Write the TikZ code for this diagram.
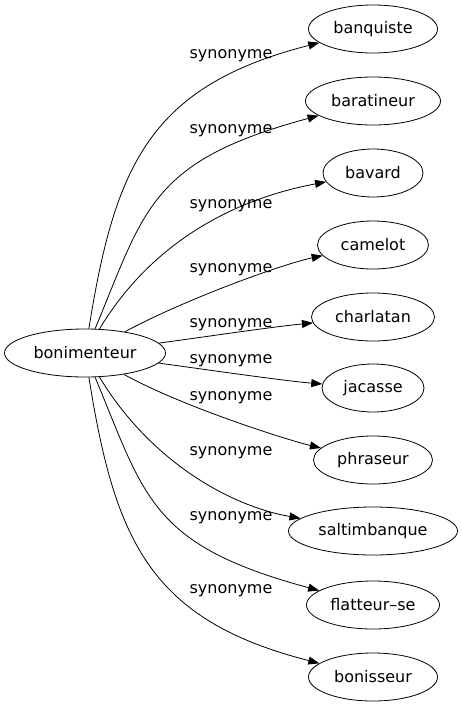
\documentclass[tikz,border=0pt]{standalone}
\usepackage{fontspec}
\setmainfont{DejaVu Sans}
\usetikzlibrary{shapes.geometric,arrows.meta}
\begin{document}
\begin{tikzpicture}[x=1pt,y=-1pt,
  word/.style={ellipse,draw,line width=0.8pt,inner sep=0pt,minimum height=48pt,font=\fontsize{16}{19}\selectfont},
  rel/.style={font=\fontsize{16}{19}\selectfont,anchor=base,inner sep=0pt},
  syn/.style={draw,line width=0.8pt,-{Triangle[length=11pt,width=8pt]}}]
\useasboundingbox (0,0) rectangle (462,707);
\node[word,minimum width=161pt] (src) at (85,353) {bonimenteur};
\node[word,minimum width=129pt] (t1) at (373,29) {banquiste};
\node[word,minimum width=135pt] (t2) at (373,101) {baratineur};
\node[word,minimum width=100pt] (t3) at (373,173) {bavard};
\node[word,minimum width=111pt] (t4) at (373,245) {camelot};
\node[word,minimum width=123pt] (t5) at (373,317) {charlatan};
\node[word,minimum width=102pt] (t6) at (373,388) {jacasse};
\node[word,minimum width=119pt] (t7) at (373,460) {phraseur};
\node[word,minimum width=169pt] (t8) at (373,531) {saltimbanque};
\node[word,minimum width=133pt] (t9) at (373,605) {flatteur–se};
\node[word,minimum width=129pt] (t10) at (373,677) {bonisseur};
\draw[syn] (src) .. controls (115,165) and (150,86) .. (t1);
\draw[syn] (src) .. controls (145,209) and (150,161) .. (t2);
\draw[syn] (src) .. controls (150,245) and (230,200) .. (t3);
\draw[syn] (src) .. controls (188,298) and (283,264) .. (t4);
\draw[syn] (src) .. controls (197,338) and (271,327) .. (t5);
\draw[syn] (src) .. controls (202,369) and (285,381) .. (t6);
\draw[syn] (src) .. controls (185,408) and (291,441) .. (t7);
\draw[syn] (src) .. controls (150,461) and (230,506) .. (t8);
\draw[syn] (src) .. controls (145,497) and (150,545) .. (t9);
\draw[syn] (src) .. controls (115,541) and (150,620) .. (t10);
\node[rel] (l1) at (231,58) {synonyme};
\node[rel] (l2) at (231,133) {synonyme};
\node[rel] (l3) at (231,208) {synonyme};
\node[rel] (l4) at (231,272) {synonyme};
\node[rel] (l5) at (231,327) {synonyme};
\node[rel] (l6) at (231,363) {synonyme};
\node[rel] (l7) at (231,400) {synonyme};
\node[rel] (l8) at (231,455) {synonyme};
\node[rel] (l9) at (231,520) {synonyme};
\node[rel] (l10) at (231,593) {synonyme};
\end{tikzpicture}
\end{document}
